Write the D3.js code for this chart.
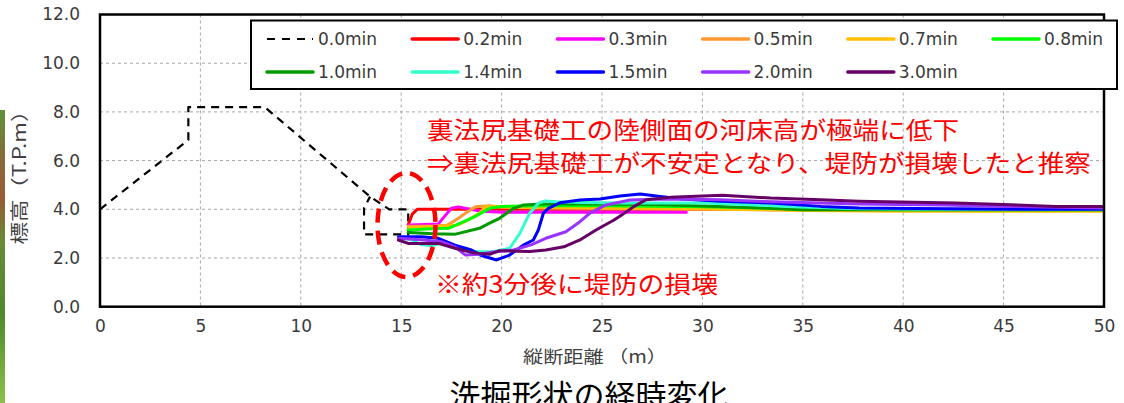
<!DOCTYPE html>
<html lang="ja">
<head>
<meta charset="utf-8">
<script src="https://cdn.jsdelivr.net/npm/d3@7/dist/d3.min.js"></script>
<style>
  html, body { margin: 0; padding: 0; background: #fff; }
  svg { display: block; }
</style>
</head>
<body>
<svg id="chart" width="1124" height="403"></svg>
<script>
// Bed-elevation profiles along the levee section (distance m, elevation T.P.m)
const s00 = [[0,4.0],[4.4,6.85],[4.4,8.2],[8.2,8.2],[13.45,4.52],[14.4,4.0],[15.35,4.0],[15.35,2.97],[13.15,2.97],[13.15,4.06],[13.45,4.52]];
const s02 = [[15.35,3.36],[15.55,3.8],[15.8,4.0],[20,4.0],[30,4.0],[40,4.0],[50,4.0]];
const s03 = [[15.35,3.36],[16.2,3.38],[16.85,3.4],[17.2,3.75],[17.5,4.04],[17.85,4.1],[18.3,4.02],[19,3.92],[20,3.88],[25,3.88],[29.2,3.88]];
const s05 = [[15.35,3.3],[16.5,3.3],[17.3,3.35],[17.8,3.6],[18.3,3.9],[18.7,4.1],[19.4,4.15],[20,4.08],[22,4.05],[30,4.0],[40,3.95],[50,3.95]];
const s07 = [[15.35,3.25],[17,3.3],[17.8,3.35],[18.2,3.5],[18.9,3.85],[19.2,4.1],[19.8,4.12],[21,4.08],[25,4.05],[30,4.02],[35,3.95],[40,3.92],[50,3.92]];
const s08 = [[15.35,3.15],[16.5,3.2],[17.35,3.22],[18,3.45],[18.67,3.7],[19.4,4.04],[20,4.12],[22,4.15],[25,4.15],[30,4.1],[35,4.02],[40,3.98],[50,3.98]];
const s10 = [[15.35,3.05],[16.6,3.0],[17.7,2.98],[18.9,3.22],[19.4,3.43],[19.9,3.63],[20.6,4.04],[21.1,4.18],[22,4.22],[25,4.22],[28,4.19],[30.9,4.12],[33,4.05],[34.9,3.98],[40,3.98],[50,3.98]];
const s14 = [[14.86,2.85],[15.5,2.75],[16.0,2.55],[16.5,2.5],[17.0,2.6],[17.7,2.45],[18.3,2.3],[18.9,2.26],[19.6,2.26],[20.4,2.4],[20.9,3.0],[21.4,3.84],[21.83,4.25],[22.16,4.34],[22.74,4.31],[24,4.28],[26,4.26],[30,4.26],[32,4.2],[34.2,4.12],[37.8,4.02],[42,4.0],[50,4.0]];
const s15 = [[14.86,2.87],[16.0,2.87],[16.85,2.81],[17.68,2.53],[18.5,2.33],[19.0,2.1],[19.75,1.92],[20.4,2.12],[21.08,2.53],[21.58,2.74],[21.83,3.15],[22.08,3.84],[22.33,4.04],[22.9,4.27],[23.9,4.38],[24.9,4.42],[25.9,4.55],[26.9,4.63],[27.9,4.53],[29,4.42],[30.9,4.33],[33.4,4.26],[35.9,4.12],[37.8,4.05],[42,4.02],[46,4.0],[50,4.0]];
const s20 = [[14.86,2.81],[16.0,2.75],[17.0,2.67],[17.68,2.46],[18.2,2.12],[18.9,2.15],[19.6,2.25],[20.6,2.33],[21.5,2.55],[22.2,2.81],[23.2,3.08],[23.9,3.49],[24.4,3.84],[25.2,4.18],[26.4,4.38],[28,4.42],[30.9,4.39],[33,4.32],[35.9,4.26],[37.8,4.22],[42,4.18],[45.1,4.12],[50,4.05]];
const s30 = [[14.86,2.74],[15.35,2.6],[16.85,2.6],[17.68,2.4],[18.5,2.23],[18.9,2.19],[19.4,2.15],[19.9,2.3],[21.4,2.27],[22.2,2.33],[23.1,2.46],[23.9,2.74],[24.7,3.15],[25.6,3.56],[26.0,3.78],[26.6,4.12],[27.2,4.39],[28.4,4.49],[31.0,4.58],[33.4,4.46],[35.9,4.39],[37.8,4.33],[42.6,4.26],[47.6,4.12],[50,4.12]];

const seriesNames  = ["0.0min","0.2min","0.3min","0.5min","0.7min","0.8min","1.0min","1.4min","1.5min","2.0min","3.0min"];
const seriesValues = [s00, s02, s03, s05, s07, s08, s10, s14, s15, s20, s30];
const seriesColors = ["#000000","#ff0000","#ff00ff","#ff9933","#ffc000","#00ff00","#009900","#33ffcc","#0000ff","#9933ff","#660066"];

const xTicks = [0,5,10,15,20,25,30,35,40,45,50];
const yTicks = [0,2,4,6,8,10,12];

const noteLines = ["裏法尻基礎工の陸側面の河床高が極端に低下", "⇒裏法尻基礎工が不安定となり、堤防が損壊したと推察"];
const noteFail  = "※約3分後に堤防の損壊";
const xTitle = "縦断距離 （m）";
const yTitle = "標高（T.P.m）";
const chartTitle = "洗掘形状の経時変化";

const svg = d3.select("#chart");
const plot = { left: 100, top: 14.5, right: 1104, bottom: 306.7 };
const x = d3.scaleLinear().domain([0, 50]).range([plot.left, plot.right]);
const y = d3.scaleLinear().domain([0, 12]).range([plot.bottom, plot.top]);

const latin = "'DejaVu Sans', sans-serif";
const cjk = "'Noto Sans CJK JP', 'Noto Sans', sans-serif";

// thin strip of a neighbouring photo at the left edge
const defs = svg.append("defs");
const grad = defs.append("linearGradient").attr("id", "strip").attr("x1", 0).attr("y1", 0).attr("x2", 0).attr("y2", 1);
[[0,"#5f8f3a"],[0.18,"#8a6a3a"],[0.3,"#9a5a36"],[0.45,"#6a8a34"],[0.7,"#4f8a2c"],[1,"#8cc04a"]]
  .forEach(([o,c]) => grad.append("stop").attr("offset", o).attr("stop-color", c));
svg.append("rect").attr("x", 0).attr("y", 110).attr("width", 5).attr("height", 293).attr("fill", "url(#strip)");

defs.append("clipPath").attr("id", "plotClip").append("rect")
  .attr("x", plot.left).attr("y", plot.top)
  .attr("width", plot.right - plot.left).attr("height", plot.bottom - plot.top);

// grid
const grid = svg.append("g").attr("stroke", "#a6a6a6").attr("stroke-width", 1).attr("stroke-dasharray", "3,3");
grid.selectAll("line.h").data(yTicks.filter(t => t > 0 && t < 12)).join("line")
  .attr("x1", plot.left).attr("x2", plot.right).attr("y1", d => y(d)).attr("y2", d => y(d));
grid.selectAll("line.v").data(xTicks.filter(t => t > 0 && t < 50)).join("line")
  .attr("y1", plot.top).attr("y2", plot.bottom).attr("x1", d => x(d)).attr("x2", d => x(d));

// axes (labels only; frame drawn separately)
const xAxis = svg.append("g").attr("transform", `translate(0,${plot.bottom})`)
  .call(d3.axisBottom(x).tickValues(xTicks).tickSize(0).tickPadding(13).tickFormat(d3.format("d")));
const yAxis = svg.append("g").attr("transform", `translate(${plot.left},0)`)
  .call(d3.axisLeft(y).tickValues(yTicks).tickSize(0).tickPadding(20).tickFormat(d3.format(".1f")));
[xAxis, yAxis].forEach(a => {
  a.select(".domain").remove();
  a.selectAll("text").attr("font-family", latin).attr("font-size", 17).attr("fill", "#3a3a3a");
});

// profiles
const line = d3.line().x(d => x(d[0])).y(d => y(d[1]));
const lines = svg.append("g").attr("clip-path", "url(#plotClip)");
seriesValues.forEach((vals, i) => {
  lines.append("path").datum(vals)
    .attr("d", line)
    .attr("fill", "none")
    .attr("stroke", seriesColors[i])
    .attr("stroke-width", i === 0 ? 2.2 : 3)
    .attr("stroke-linejoin", "round")
    .attr("stroke-linecap", i === 0 ? "butt" : "round")
    .attr("stroke-dasharray", i === 0 ? "8,6" : null);
});

// frame
svg.append("rect").attr("x", plot.left).attr("y", plot.top)
  .attr("width", plot.right - plot.left).attr("height", plot.bottom - plot.top)
  .attr("fill", "none").attr("stroke", "#000").attr("stroke-width", 2.5);

// highlighted failure zone
svg.append("ellipse").attr("cx", 406.5).attr("cy", 225).attr("rx", 29).attr("ry", 52)
  .attr("fill", "none").attr("stroke", "#ff0000").attr("stroke-width", 4.5).attr("stroke-dasharray", "14,8");

// annotations
const notes = svg.append("g").attr("fill", "#ff0000").attr("font-family", cjk).attr("dominant-baseline", "central");
notes.append("text").attr("x", 427).attr("y", 128).attr("font-size", 24).attr("textLength", 532).attr("lengthAdjust", "spacingAndGlyphs").text(noteLines[0]);
notes.append("text").attr("x", 427).attr("y", 161).attr("font-size", 24).attr("textLength", 664).attr("lengthAdjust", "spacingAndGlyphs").text(noteLines[1]);
notes.append("text").attr("x", 435).attr("y", 282).attr("font-size", 24).attr("textLength", 283).attr("lengthAdjust", "spacingAndGlyphs").text(noteFail);

// legend
const lg = svg.append("g");
lg.append("rect").attr("x", 251).attr("y", 20.5).attr("width", 866).attr("height", 68.5)
  .attr("fill", "#fff").attr("stroke", "#000").attr("stroke-width", 2);
seriesNames.forEach((name, i) => {
  const col = i < 6 ? i : i - 6;
  const row = i < 6 ? 0 : 1;
  const lx = 267 + col * 145.2;
  const ly = 39 + row * 33;
  lg.append("line").attr("x1", lx).attr("x2", lx + 46).attr("y1", ly).attr("y2", ly)
    .attr("stroke", seriesColors[i]).attr("stroke-width", i === 0 ? 2.2 : 3.5)
    .attr("stroke-linecap", i === 0 ? "butt" : "round")
    .attr("stroke-dasharray", i === 0 ? "8,7" : null);
  lg.append("text").attr("x", lx + 51).attr("y", ly).attr("dominant-baseline", "central")
    .attr("font-family", latin).attr("font-size", 17).attr("fill", "#3a3a3a").text(name);
});

// axis titles and chart title
svg.append("text").attr("x", 595).attr("y", 355).attr("text-anchor", "middle").attr("dominant-baseline", "central")
  .attr("font-family", cjk).attr("font-size", 17).attr("fill", "#404040")
  .attr("textLength", 144).attr("lengthAdjust", "spacingAndGlyphs").text(xTitle);
svg.append("text").attr("transform", "translate(18,172) rotate(-90)").attr("text-anchor", "middle").attr("dominant-baseline", "central")
  .attr("font-family", cjk).attr("font-size", 18).attr("fill", "#404040")
  .attr("textLength", 145).attr("lengthAdjust", "spacingAndGlyphs").text(yTitle);
svg.append("text").attr("x", 589).attr("y", 393).attr("text-anchor", "middle").attr("dominant-baseline", "central")
  .attr("font-family", cjk).attr("font-size", 31).attr("fill", "#000").text(chartTitle);
</script>
</body>
</html>
